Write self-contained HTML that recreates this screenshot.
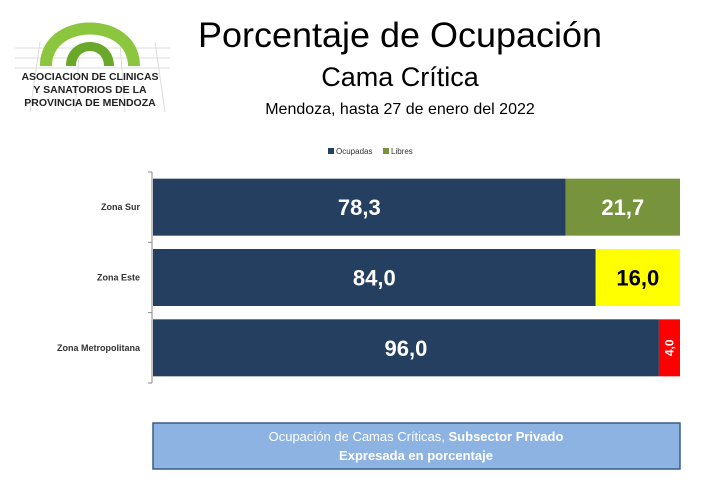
<!DOCTYPE html>
<html><head><meta charset="utf-8"><style>
body{margin:0;background:#fff;width:716px;height:479px;overflow:hidden;font-family:"Liberation Sans",sans-serif}
</style></head><body>
<svg width="716" height="479" xmlns="http://www.w3.org/2000/svg">
<g>
<g stroke="#ddd" stroke-width="1">
<line x1="15" y1="48" x2="170" y2="48"/><line x1="15" y1="58" x2="170" y2="58"/><line x1="15" y1="68" x2="170" y2="68"/>
<line x1="40" y1="42" x2="30" y2="112"/><line x1="80" y1="42" x2="75" y2="112"/><line x1="120" y1="42" x2="125" y2="112"/><line x1="155" y1="42" x2="165" y2="112"/>
</g>
<path d="M40 66 C40 8 140 8 140 66 L128 66 C128 24 52 24 52 66 Z" fill="#8cc63f"/>
<path d="M66 66 C66 34 114 34 114 66 L104 66 C104 46 76 46 76 66 Z" fill="#6aa82a"/>
<text x="90" y="80" text-anchor="middle" font-size="10.5" font-weight="bold" fill="#222">ASOCIACION DE CLINICAS</text>
<text x="90" y="93" text-anchor="middle" font-size="10.5" font-weight="bold" fill="#222">Y SANATORIOS DE LA</text>
<text x="90" y="106" text-anchor="middle" font-size="10.5" font-weight="bold" fill="#222">PROVINCIA DE MENDOZA</text>
</g>
<text x="400" y="47" text-anchor="middle" font-size="35" textLength="404" lengthAdjust="spacingAndGlyphs" fill="#000">Porcentaje de Ocupación</text>
<text x="400" y="86" text-anchor="middle" font-size="27" fill="#000">Cama Crítica</text>
<text x="400" y="114" text-anchor="middle" font-size="16" fill="#000">Mendoza, hasta 27 de enero del 2022</text>
<g font-size="8" fill="#333">
<rect x="328" y="148" width="6" height="6" fill="#243f60"/>
<text x="336" y="154">Ocupadas</text>
<rect x="383" y="148" width="6" height="6" fill="#77933c"/>
<text x="391" y="154">Libres</text>
</g>
<g id="plot"></g>
<g>
<rect x="153" y="423" width="527" height="46" fill="#8db3e2" stroke="#385d8a" stroke-width="1.5"/>
<text x="416" y="441" text-anchor="middle" font-size="13" fill="#fff">Ocupación de Camas Críticas, <tspan font-weight="bold">Subsector Privado</tspan></text>
<text x="416" y="460" text-anchor="middle" font-size="13" font-weight="bold" fill="#fff">Expresada en porcentaje</text>
</g>
</svg>
<script>
const categories=["Zona Sur","Zona Este","Zona Metropolitana"];
const ocupadas=[78.3,84.0,96.0];
const libres=[21.7,16.0,4.0];
const libresColors=["#77933c","#ffff00","#ff0000"];
const libresText=["#fff","#000","#fff"];
const NS="http://www.w3.org/2000/svg";
const g=document.getElementById('plot');
const x0=153,x1=680,yTop=172,yBot=383;
const xs=v=>x0+(x1-x0)*v/100;
const band=(yBot-yTop)/categories.length;
function mk(t,a,txt){const e=document.createElementNS(NS,t);for(const k in a)e.setAttribute(k,a[k]);if(txt!=null)e.textContent=txt;g.appendChild(e);return e;}
const ax=mk('line',{x1:152,x2:152,y1:yTop,y2:yBot,stroke:'#888'});


for(let i=0;i<=categories.length;i++){const y=yTop+band*i;const t=mk('line',{x1:148,x2:152,y1:y,y2:y,stroke:'#888'});

}
categories.forEach((c,i)=>{
 const yc=yTop+band*(i+0.5);const h=57;const y=yc-h/2;
 const lb=mk('text',{x:140,y:yc+3,'text-anchor':'end','font-size':9,'font-weight':'bold',fill:'#333'},c);
 
 
 const b1=mk('rect',{x:xs(0),y:y,width:xs(ocupadas[i])-xs(0),height:h,fill:'#243f60'});
 
 
 const b2=mk('rect',{x:xs(ocupadas[i]),y:y,width:xs(ocupadas[i]+libres[i])-xs(ocupadas[i]),height:h,fill:libresColors[i]});
 
 
 const fmt=v=>v.toFixed(1).replace('.',',');
 const t1=mk('text',{x:(xs(0)+xs(ocupadas[i]))/2,y:yc+8,'text-anchor':'middle','font-size':22,'font-weight':'bold',fill:'#fff'},fmt(ocupadas[i]));
 
 
 const cx=(xs(ocupadas[i])+xs(ocupadas[i]+libres[i]))/2;
 let t2;
 if(libres[i]<8){t2=mk('text',{x:cx+4,y:yc,'text-anchor':'middle','font-size':12,'font-weight':'bold',fill:libresText[i],transform:`rotate(-90 ${cx+4} ${yc})`},fmt(libres[i]));}
 else{t2=mk('text',{x:cx,y:yc+8,'text-anchor':'middle','font-size':22,'font-weight':'bold',fill:libresText[i]},fmt(libres[i]));}
 
 
});
</script>
</body></html>
